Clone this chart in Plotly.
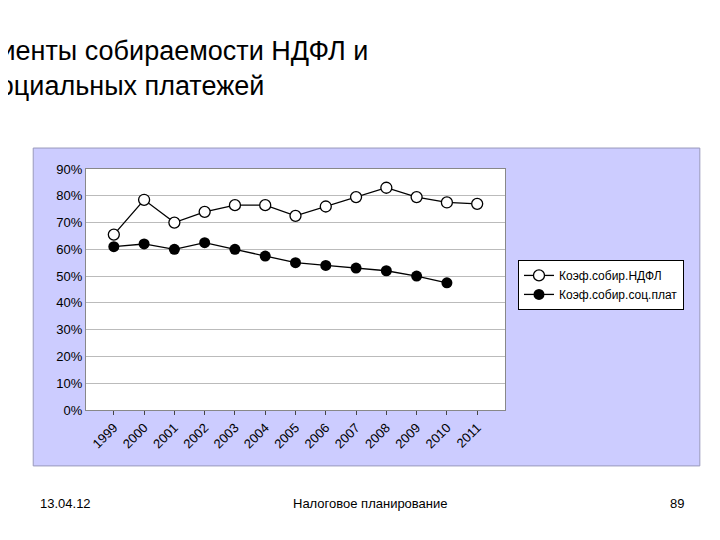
import plotly.graph_objects as go

years = ['1999', '2000', '2001', '2002', '2003', '2004', '2005',
         '2006', '2007', '2008', '2009', '2010', '2011']
ndfl = [0.655, 0.785, 0.70, 0.74, 0.765, 0.765, 0.725, 0.76, 0.795, 0.83, 0.795, 0.775, 0.77]
soc = [0.61, 0.62, 0.60, 0.625, 0.60, 0.575, 0.55, 0.54, 0.53, 0.52, 0.50, 0.475]

font = 'Liberation Sans, Arial'

fig = go.Figure()
fig.add_trace(go.Scatter(x=years, y=ndfl, mode='lines+markers', name='Коэф.собир.НДФЛ',
                         line=dict(color='black', width=1.3),
                         marker=dict(symbol='circle', size=11, color='white',
                                     line=dict(color='black', width=1.3))))
fig.add_trace(go.Scatter(x=years[:len(soc)], y=soc, mode='lines+markers', name='Коэф.собир.соц.плат',
                         line=dict(color='black', width=1.3),
                         marker=dict(symbol='circle', size=11, color='black')))

# lavender chart panel, then white plot area on top of it
fig.add_shape(type='rect', xref='paper', yref='paper', x0=-0.126, x1=1.465, y0=-0.232, y1=1.087,
              fillcolor='#ccccff', line=dict(color='#9999bb', width=1), layer='below')
fig.add_shape(type='rect', xref='paper', yref='paper', x0=0, x1=1, y0=0, y1=1,
              fillcolor='white', line=dict(width=0), layer='below')

fig.update_layout(
    width=720, height=540,
    margin=dict(l=78, r=223, t=161, b=138),
    paper_bgcolor='white', plot_bgcolor='rgba(0,0,0,0)',
    font=dict(family=font, color='black'),
    showlegend=True,
    legend=dict(x=1.031, y=0.519, xanchor='left', yanchor='middle', bgcolor='white',
                bordercolor='black', borderwidth=1, font=dict(size=12)),
    xaxis=dict(type='category', tickangle=-45, tickfont=dict(size=13), showgrid=False,
               showline=True, linecolor='#888', mirror=True, ticks='outside', ticklen=4),
    yaxis=dict(range=[0, 0.9], dtick=0.1, tickformat='.0%', tickfont=dict(size=13),
               gridcolor='#bbbbbb', showline=True, linecolor='#888', mirror=True, zeroline=False),
)

fig.add_annotation(text='Коэффициенты собираемости НДФЛ и<br>социальных платежей',
                   xref='paper', yref='paper', x=0.678, y=1.56, yanchor='top', showarrow=False,
                   font=dict(size=27), align='center')
fig.add_annotation(text='13.04.12', xref='paper', yref='paper', x=-0.115, y=-0.427,
                   showarrow=False, xanchor='left', font=dict(size=13))
fig.add_annotation(text='Налоговое планирование', xref='paper', yref='paper', x=0.678, y=-0.427,
                   showarrow=False, xanchor='center', font=dict(size=13))
fig.add_annotation(text='89', xref='paper', yref='paper', x=1.432, y=-0.427,
                   showarrow=False, xanchor='right', font=dict(size=13))

fig.write_html('out.html')
